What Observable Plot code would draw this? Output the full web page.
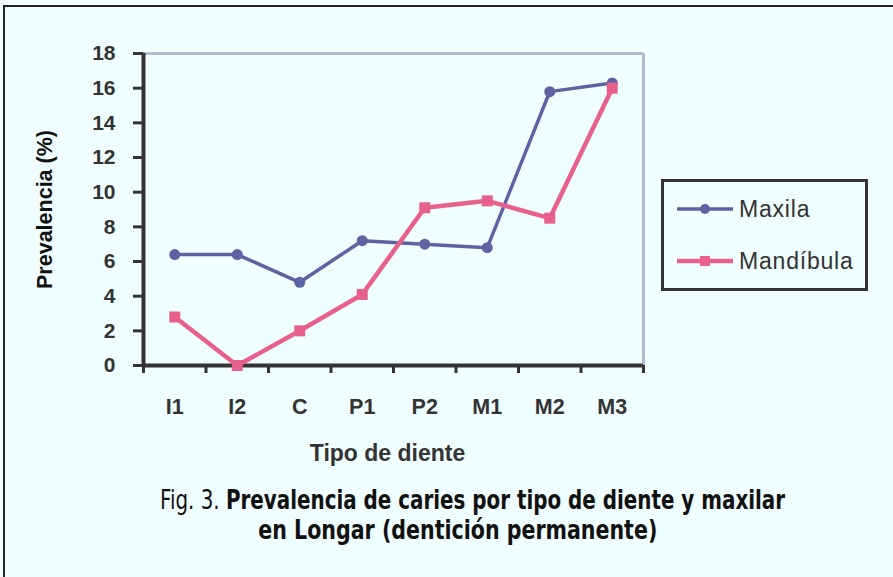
<!DOCTYPE html>
<html>
<head>
<meta charset="utf-8">
<script src="https://cdn.jsdelivr.net/npm/d3@7"></script>
<script src="https://cdn.jsdelivr.net/npm/@observablehq/plot@0.6"></script>
<style>
  html, body { margin: 0; padding: 0; background: #effefe; }
  #wrap { position: relative; width: 893px; height: 577px; background: #effefe; overflow: hidden; font-family: "Liberation Sans", Arial, sans-serif; }
  #borderTop { position: absolute; left: 3px; top: 5px; width: 890px; height: 2px; background: #222; }
  #borderLeft { position: absolute; left: 3px; top: 5px; width: 2px; height: 572px; background: #222; }
  #chart { position: absolute; left: 0; top: 0; }
  #legend { position: absolute; left: 661px; top: 179px; width: 201px; height: 106px; border: 3px solid #333; background: #effefe; }
  .leg-row { position: absolute; left: 12px; display: flex; align-items: center; }
  .leg-row span { font-size: 23px; color: #333; letter-spacing: 0.8px; margin-left: 5px; }
  .cap { position: absolute; font-family: "DejaVu Sans Condensed", "Liberation Sans Narrow", sans-serif; font-stretch: condensed; font-size: 26px; color: #111; white-space: nowrap; transform-origin: 50% 50%; }
  .cap b { font-weight: bold; }
  .cap .fig { font-weight: normal; }
</style>
</head>
<body>
<div id="wrap">
  <div id="chart"></div>
  <div id="borderTop"></div>
  <div id="borderLeft"></div>
  <div id="legend"></div>
  <div class="cap" id="cap1"><span class="fig">Fig. 3.</span> <b>Prevalencia de caries por tipo de diente y maxilar</b></div>
  <div class="cap" id="cap2"><b>en Longar (dentición permanente)</b></div>
</div>
<script>
// ---- data ----
const teeth = ["I1", "I2", "C", "P1", "P2", "M1", "M2", "M3"];
const maxila = [6.4, 6.4, 4.8, 7.2, 7.0, 6.8, 15.8, 16.3];
const mandibula = [2.8, 0.0, 2.0, 4.1, 9.1, 9.5, 8.5, 16.0];
const seriesNames = ["Maxila", "Mandíbula"];
const yTicks = [0, 2, 4, 6, 8, 10, 12, 14, 16, 18];
const yTitle = "Prevalencia (%)";
const xTitle = "Tipo de diente";

const colMax = "#5c63a3";
const colMan = "#e8608c";

const idx = teeth.map((_, i) => i);
const rowsMax = idx.map(i => ({i, tooth: teeth[i], value: maxila[i], series: seriesNames[0]}));
const rowsMan = idx.map(i => ({i, tooth: teeth[i], value: mandibula[i], series: seriesNames[1]}));
const edges = d3.range(teeth.length + 1).map(k => k - 0.5);

const chart = Plot.plot({
  width: 893,
  height: 480,
  marginLeft: 143,
  marginRight: 250,
  marginTop: 53,
  marginBottom: 115,
  style: { background: "transparent", fontFamily: "'Liberation Sans', Arial, sans-serif", color: "#333" },
  x: { type: "linear", domain: [-0.5, teeth.length - 0.5] },
  y: { domain: [0, 18] },
  marks: [
    Plot.ruleY([18], { stroke: "#b3bbd4", strokeWidth: 3 }),
    Plot.ruleX([teeth.length - 0.5], { stroke: "#b3bbd4", strokeWidth: 3 }),
    Plot.axisY({
      ticks: yTicks, tickSize: 10, tickPadding: 18, stroke: "#333", strokeWidth: 3,
      fontSize: 21, fontWeight: "bold", fill: "#333", label: null
    }),
    Plot.axisX({
      ticks: edges, tickSize: 8, stroke: "#333", strokeWidth: 3, tickFormat: () => "", label: null
    }),
    Plot.axisX({
      ticks: idx, tickSize: 0, tickPadding: 33, tickFormat: i => teeth[i],
      fontSize: 21.5, fontWeight: "bold", fill: "#333", label: null
    }),
    Plot.text([yTitle], { frameAnchor: "left", rotate: -90, dx: -98, lineAnchor: "middle", textAnchor: "middle",
      fontSize: 21.5, fontWeight: "bold", fill: "#111" }),
    Plot.text([xTitle], { frameAnchor: "bottom", dy: 88, dx: -6, lineAnchor: "middle", textAnchor: "middle",
      fontSize: 23, fontWeight: "bold", fill: "#333" }),
    Plot.ruleX([-0.5], { stroke: "#333", strokeWidth: 4 }),
    Plot.ruleY([0], { stroke: "#333", strokeWidth: 4 }),
    Plot.line(rowsMax, { x: "i", y: "value", stroke: colMax, strokeWidth: 3.5 }),
    Plot.dot(rowsMax, { x: "i", y: "value", fill: colMax, r: 5.5, symbol: "circle" }),
    Plot.line(rowsMan, { x: "i", y: "value", stroke: colMan, strokeWidth: 4.5 }),
    Plot.dot(rowsMan, { x: "i", y: "value", fill: colMan, r: 6.2, symbol: "square" })
  ]
});
document.getElementById("chart").appendChild(chart);

// legend
const legend = document.getElementById("legend");
[[seriesNames[0], colMax, "circle", 27], [seriesNames[1], colMan, "square", 79]].forEach(([name, col, sym, top]) => {
  const row = document.createElement("div");
  row.className = "leg-row";
  row.style.top = (top - 14) + "px";
  const ns = "http://www.w3.org/2000/svg";
  const svg = document.createElementNS(ns, "svg");
  svg.setAttribute("width", 58); svg.setAttribute("height", 28);
  const line = document.createElementNS(ns, "line");
  line.setAttribute("x1", 1); line.setAttribute("x2", 57); line.setAttribute("y1", 14); line.setAttribute("y2", 14);
  line.setAttribute("stroke", col); line.setAttribute("stroke-width", sym === "circle" ? 3.5 : 4.5);
  svg.appendChild(line);
  let m;
  if (sym === "circle") {
    m = document.createElementNS(ns, "circle");
    m.setAttribute("cx", 29); m.setAttribute("cy", 14); m.setAttribute("r", 5);
  } else {
    m = document.createElementNS(ns, "rect");
    m.setAttribute("x", 24); m.setAttribute("y", 9); m.setAttribute("width", 10); m.setAttribute("height", 10);
  }
  m.setAttribute("fill", col);
  svg.appendChild(m);
  row.appendChild(svg);
  const t = document.createElement("span");
  t.textContent = name;
  row.appendChild(t);
  legend.appendChild(row);
});

// caption: fit each line to its measured span in the reference
function place(el, left, right, centerY) {
  const w = el.getBoundingClientRect().width;
  const h = el.getBoundingClientRect().height;
  const target = right - left;
  const s = target / w;
  el.style.left = ((left + right) / 2 - w / 2) + "px";
  el.style.top = (centerY - h / 2) + "px";
  el.style.transform = `scaleX(${s})`;
}
place(document.getElementById("cap1"), 160, 785, 500);
place(document.getElementById("cap2"), 258, 657, 530);
</script>
</body>
</html>
